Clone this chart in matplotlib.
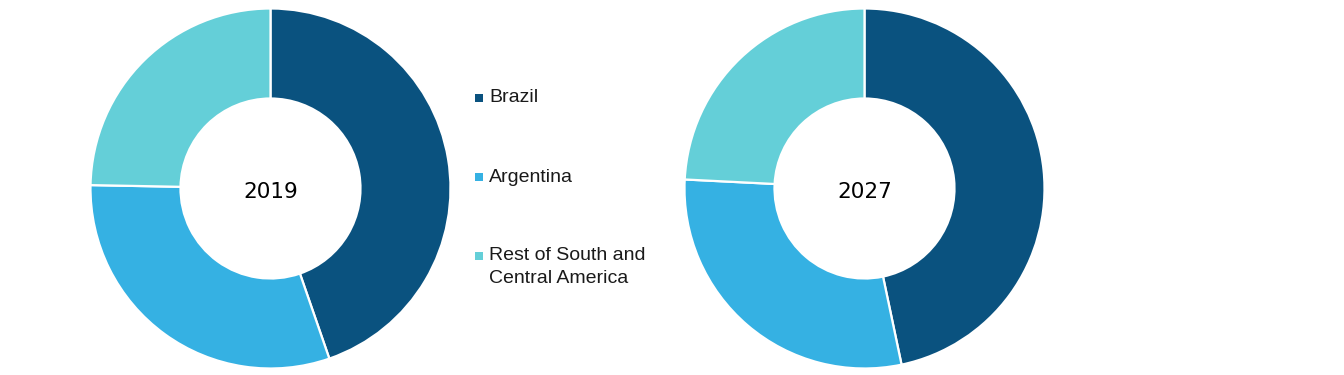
import matplotlib
matplotlib.use("Agg")
import matplotlib.pyplot as plt

plt.rcParams['font.family'] = ['Liberation Sans', 'DejaVu Sans']

categories = ["Brazil", "Argentina", "Rest of South and\nCentral America"]
years = ["2019", "2027"]
share_2019 = [44.7, 30.6, 24.7]
share_2027 = [46.7, 29.1, 24.2]
colors = ["#0A527F", "#35B1E3", "#64CFD8"]

W, H = 1344, 375
fig = plt.figure(figsize=(W / 100, H / 100), dpi=100)


def add_donut(cx, cy, r, values, label):
    ax = fig.add_axes([(cx - r) / W, (H - cy - r) / H, 2 * r / W, 2 * r / H])
    ax.pie(values, colors=colors, startangle=90, counterclock=False, radius=1.0,
           wedgeprops=dict(width=0.5, edgecolor="white", linewidth=1.6))
    ax.set_xlim(-1.0, 1.0)
    ax.set_ylim(-1.0, 1.0)
    ax.set_aspect("equal")
    ax.axis("off")
    ax.text(0, -0.022, label, ha="center", va="center", fontsize=15.5,
            family=['DejaVu Sans'], color="black")


add_donut(270.5, 188.5, 180, share_2019, years[0])
add_donut(864.5, 188.5, 180, share_2027, years[1])

# legend drawn in a pixel-coordinate overlay
lax = fig.add_axes([0, 0, 1, 1])
lax.set_xlim(0, W)
lax.set_ylim(H, 0)
lax.axis("off")
leg_y = [98, 177, 256]
for cat, col, y in zip(categories, colors, leg_y):
    lax.scatter([478.5], [y], marker="s", s=36, color=col, linewidths=0)
    lax.text(489, y - 8.5, cat, ha="left", va="top", fontsize=14,
             linespacing=1.46, color="#1a1a1a")

fig.savefig("out.png", dpi=100)
